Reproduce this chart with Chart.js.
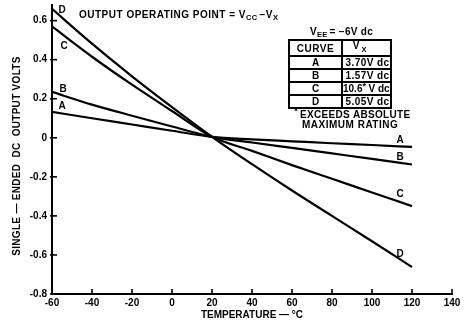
<!DOCTYPE html>
<html>
<head>
<meta charset="utf-8">
<script src="https://cdn.jsdelivr.net/npm/chart.js@4/dist/chart.umd.min.js"></script>
<style>
body { margin: 0; background: #fff; }
#wrap { width: 465px; height: 322px; }
</style>
</head>
<body>
<div id="wrap"><canvas id="chart_line" width="465" height="322"></canvas></div>
<script>
// temperatures (deg C) and output volts
var temps = [-60, -40, -20, 0, 20, 40, 60, 80, 100, 120];
var curveA = [0.133, 0.1, 0.068, 0.036, 0.005, -0.008, -0.018, -0.028, -0.037, -0.047];
var curveB = [0.235, 0.17, 0.113, 0.058, 0.005, -0.024, -0.052, -0.08, -0.108, -0.137];
var curveC = [0.57, 0.415, 0.272, 0.137, 0.005, -0.067, -0.14, -0.21, -0.28, -0.35];
var curveD = [0.66, 0.482, 0.315, 0.157, 0.005, -0.135, -0.27, -0.40, -0.53, -0.662];

var curveNames = ["A", "B", "C", "D"];
var vxValues = ["3.70V dc", "1.57V dc", "10.6", "5.05V dc"];

var xTicks = [-60, -40, -20, 0, 20, 40, 60, 80, 100, 120, 140];
var yTicks = [-0.8, -0.6, -0.4, -0.2, 0, 0.2, 0.4, 0.6];

function pts(ys){
	var out = []
	for (var i = 0; i < temps.length; i++) out.push({x: temps[i], y: ys[i]})
	return out
}

var FONT = '"Liberation Sans", Arial, sans-serif'

function txt(c, s, x, y, size, sp){
	c.font = "bold " + size + "px " + FONT
	c.letterSpacing = (sp || 0) + "px"
	c.fillText(s, x, y)
	return c.measureText(s).width
}

// draws inward tick marks, axis title, curve letters, the note and the table
var extras = {
	id: "extras",
	afterDraw: function(chart){
		var c = chart.ctx
		var xs = chart.scales.x, ys = chart.scales.y
		var a = chart.chartArea
		c.save()
		c.strokeStyle = "#000"
		c.lineWidth = 1.6
		xTicks.forEach(function(v){
			var px = xs.getPixelForValue(v)
			c.beginPath(); c.moveTo(px, a.bottom); c.lineTo(px, a.bottom - 5); c.stroke()
		})
		yTicks.forEach(function(v){
			var py = ys.getPixelForValue(v)
			c.beginPath(); c.moveTo(a.left - 2, py); c.lineTo(a.left + 5, py); c.stroke()
		})

		c.fillStyle = "#000"
		c.textBaseline = "middle"

		// y axis title
		c.save()
		c.translate(17, 156)
		c.rotate(-Math.PI / 2)
		c.textAlign = "center"
		txt(c, "SINGLE \u2014 ENDED  DC  OUTPUT VOLTS", 0, 0, 10, 0.3)
		c.restore()

		c.textAlign = "center"
		// letters beside the curve ends
		var lefts = [[-55, 0.163], [-54.5, 0.25], [-54, 0.47], [-55, 0.655]]
		var rights = [[114, -0.014], [114, -0.098], [114, -0.288], [114, -0.595]]
		for (var i = 0; i < 4; i++) {
			txt(c, curveNames[i], xs.getPixelForValue(lefts[i][0]), ys.getPixelForValue(lefts[i][1]), 10)
			txt(c, curveNames[i], xs.getPixelForValue(rights[i][0]), ys.getPixelForValue(rights[i][1]), 10)
		}

		// header note
		c.textAlign = "left"
		var x = 79, y = 15
		x += txt(c, "OUTPUT OPERATING POINT = V", x, y, 10, 0.5)
		x += txt(c, "CC", x, y + 3, 7.5, 0.3) + 2
		x += txt(c, "\u2212V", x, y, 10, 0.5)
		txt(c, "X", x, y + 3, 7.5)

		// V_EE line
		x = 310; y = 32
		x += txt(c, "V", x, y, 10, 0.3)
		x += txt(c, "EE", x, y + 3, 7.5, 0.3) + 2
		txt(c, "= \u22126V dc", x, y, 10, 0.3)

		// table
		var tl = 289, tr = 391, tm = 342
		var rows = [40, 56, 69, 82, 95, 108]
		c.lineWidth = 2
		c.strokeRect(tl, rows[0], tr - tl, rows[5] - rows[0])
		for (var r = 1; r < 5; r++) {
			c.beginPath(); c.moveTo(tl, rows[r]); c.lineTo(tr, rows[r]); c.stroke()
		}
		c.beginPath(); c.moveTo(tm, rows[0]); c.lineTo(tm, rows[5]); c.stroke()
		c.textAlign = "center"
		txt(c, "CURVE", (tl + tm) / 2, 49, 10, 0.5)
		txt(c, "V", 356, 46, 10)
		txt(c, "X", 364, 50, 7.5)
		for (var k = 0; k < 4; k++) {
			var cy = (rows[k + 1] + rows[k + 2]) / 2 + 1
			txt(c, curveNames[k], (tl + tm) / 2, cy, 10)
			if (k == 2) {
				c.textAlign = "left"
				var w = txt(c, "10.6", 343, cy, 10, 0)
				txt(c, "*", 343 + w, cy - 3, 9)
				txt(c, "V dc", 343 + w + 6, cy, 10, 0)
				c.textAlign = "center"
			} else {
				txt(c, vxValues[k], (tm + tr) / 2 + 1, cy, 10, 0.4)
			}
		}

		// footnote
		c.textAlign = "left"
		txt(c, "*", 294, 112, 10)
		txt(c, "EXCEEDS ABSOLUTE", 300, 115, 10, 0.3)
		txt(c, "MAXIMUM RATING", 302, 125, 10, 0.5)
		c.restore()
	}
}

var ctx = document.getElementById("chart_line");
var myChart = new Chart(ctx, {
	type: 'line',
	data: {
		datasets: [
			{label: 'A', data: pts(curveA)},
			{label: 'B', data: pts(curveB)},
			{label: 'C', data: pts(curveC)},
			{label: 'D', data: pts(curveD)}
		]
	},
	options: {
		responsive: false,
		animation: false,
		layout: {padding: {top: 5, right: 13, left: 0, bottom: 0}},
		elements: {
			line: {borderColor: '#000', borderWidth: 2.2, cubicInterpolationMode: 'monotone', fill: false},
			point: {radius: 0}
		},
		plugins: {legend: {display: false}, tooltip: {enabled: false}},
		scales: {
			x: {
				type: 'linear',
				min: -60, max: 140,
				grid: {display: false, drawTicks: false},
				border: {display: true, color: '#000', width: 2},
				ticks: {stepSize: 20, color: '#000', padding: 3, maxRotation: 0, font: {family: FONT, size: 10, weight: 'bold'}},
				title: {display: true, text: 'TEMPERATURE \u2014 \u00b0C', color: '#000', padding: {top: 0, bottom: 1}, font: {family: FONT, size: 10, weight: 'bold'}},
				afterFit: function(s){ s.height = 28; s.paddingLeft = 0; s.paddingRight = 0 }
			},
			y: {
				min: -0.8, max: 0.68,
				grid: {display: false, drawTicks: false},
				border: {display: true, color: '#000', width: 2},
				ticks: {
					stepSize: 0.2, includeBounds: false, color: '#000', padding: 5,
					font: {family: FONT, size: 10, weight: 'bold'},
					callback: function(v){ var r = Math.round(v * 10) / 10; return r == 0 ? "0" : String(r) }
				},
				afterFit: function(s){ s.width = 52; s.paddingTop = 0; s.paddingBottom = 0 }
			}
		}
	},
	plugins: [extras]
});
</script>
</body>
</html>
